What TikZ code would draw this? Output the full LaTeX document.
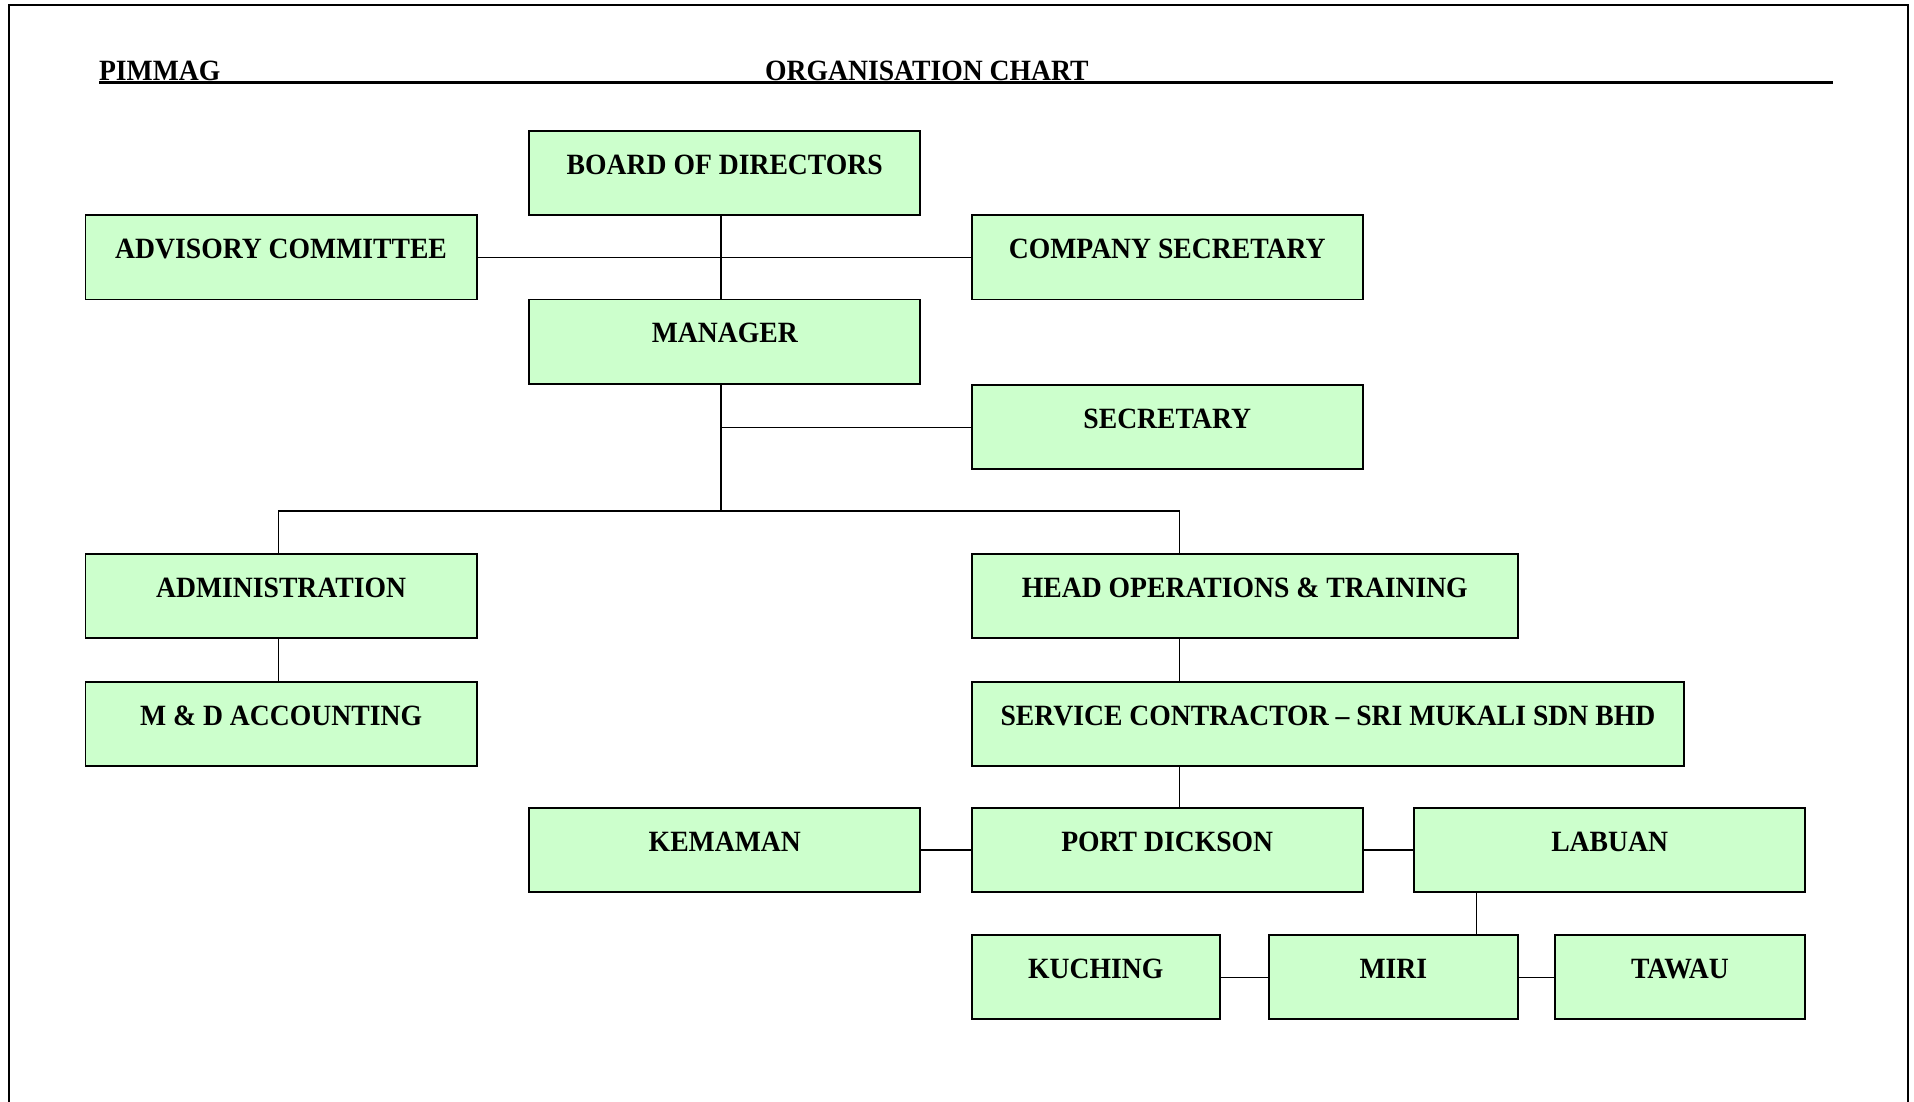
\documentclass[tikz,border=0pt]{standalone}
\usepackage{fontspec}
\setmainfont{Liberation Serif}[FakeStretch=0.94]
\usepackage{tikz}
\definecolor{unitgreen}{HTML}{CCFFCC}

\begin{document}
\begin{tikzpicture}[x=0.2mm,y=-0.2mm,every node/.style={font=\bfseries\fontsize{13.7}{16}\selectfont,inner sep=0pt,outer sep=0pt},
    unit/.style={draw,line width=0.8pt,fill=unitgreen,anchor=north west,align=center,minimum width=#1,text height=7.1mm,text depth=6.7mm},
    unit/.default=64mm,
    link/.style={line width=0.6pt}]
  \useasboundingbox (0,0) rectangle (1566,901);
  \draw[line width=0.9pt] (7,910) -- (7,4) -- (1561,4) -- (1561,910);
  % heading
  \node[anchor=south west] (firm) at (81,66) {PIMMAG};
  \node[anchor=south west] (title) at (626,66) {ORGANISATION CHART};
  \coordinate (ruleend) at (1500,67.5);
  \draw[line width=1.5pt] (firm.south west) ++(0,1.5) -- (ruleend);
  % boxes
  \node[unit] (board) at (433,107) {BOARD OF DIRECTORS};
  \node[unit] (advisory) at (70,176) {ADVISORY COMMITTEE};
  \node[unit] (cosec) at (795,176) {COMPANY SECRETARY};
  \node[unit] (manager) at (433,245) {MANAGER};
  \node[unit] (secretary) at (795,315) {SECRETARY};
  \node[unit] (admin) at (70,453) {ADMINISTRATION};
  \node[unit=89.4mm] (headops) at (795,453) {HEAD OPERATIONS \& TRAINING};
  \node[unit] (accounting) at (70,558) {M \& D ACCOUNTING};
  \node[unit=116.6mm] (contractor) at (795,558) {SERVICE CONTRACTOR -- SRI MUKALI SDN BHD};
  \node[unit] (kemaman) at (433,661) {KEMAMAN};
  \node[unit] (pd) at (795,661) {PORT DICKSON};
  \node[unit] (labuan) at (1157,661) {LABUAN};
  \node[unit=40.6mm] (kuching) at (795,765) {KUCHING};
  \node[unit=40.8mm] (miri) at (1038,765) {MIRI};
  \node[unit=41mm] (tawau) at (1272,765) {TAWAU};
  % links
  \coordinate (hub) at (590,418);
  \coordinate (spine) at (965,418);
  \draw[link] (hub |- board.south) -- (hub |- manager.north);
  \draw[link] (advisory.east) -- (cosec.west);
  \draw[link] (hub |- manager.south) -- (hub);
  \draw[link] (secretary.west) -- (secretary.west -| hub);
  \draw[link] ([xshift=-0.4mm]admin.north) |- (hub) -- (spine) -- (spine |- headops.north);
  \draw[link] ([xshift=-0.4mm]admin.south) -- ([xshift=-0.4mm]accounting.north);
  \draw[link] (spine |- headops.south) -- (spine |- contractor.north);
  \draw[link] (spine |- contractor.south) -- (spine |- pd.north);
  \draw[link] (kemaman.east) -- (pd.west);
  \draw[link] (pd.east) -- (labuan.west);
  \draw[link] (labuan.south west) ++(51,0) coordinate (drop) -- (drop |- miri.north);
  \draw[link] (kuching.east) -- (miri.west);
  \draw[link] (miri.east) -- (tawau.west);
\end{tikzpicture}
\end{document}
